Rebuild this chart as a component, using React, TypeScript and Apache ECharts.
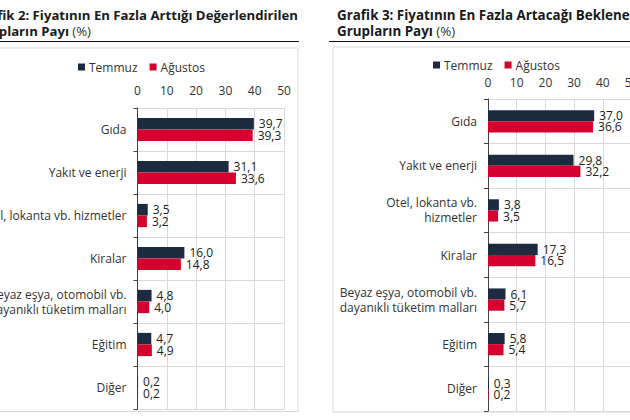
import React, { useEffect, useRef } from "react";
import * as echarts from "echarts";

const categoriesLeft = [
  "Gıda",
  "Yakıt ve enerji",
  "Otel, lokanta vb. hizmetler",
  "Kiralar",
  "Beyaz eşya, otomobil vb.\ndayanıklı tüketim malları",
  "Eğitim",
  "Diğer",
];
const categoriesRight = [
  "Gıda",
  "Yakıt ve enerji",
  "Otel, lokanta vb.\nhizmetler",
  "Kiralar",
  "Beyaz eşya, otomobil vb.\ndayanıklı tüketim malları",
  "Eğitim",
  "Diğer",
];
const temmuzLeft = [39.7, 31.1, 3.5, 16.0, 4.8, 4.7, 0.2];
const agustosLeft = [39.3, 33.6, 3.2, 14.8, 4.0, 4.9, 0.2];
const temmuzRight = [37.0, 29.8, 3.8, 17.3, 6.1, 5.8, 0.3];
const agustosRight = [36.6, 32.2, 3.5, 16.5, 5.7, 5.4, 0.2];
const seriesNames = ["Temmuz", "Ağustos"];
const titleLeft = ["Grafik 2: Fiyatının En Fazla Arttığı Değerlendirilen", "Grupların Payı"];
const titleRight = ["Grafik 3: Fiyatının En Fazla Artacağı Beklenen", "Grupların Payı"];

const NAVY = "#1d2b40";
const RED = "#d6002f";
const GRID = "#d9d9d9";
const FONT = "Open Sans";

export default function App() {
  const ref = useRef<HTMLDivElement>(null);
  useEffect(() => {
    if (!ref.current) return;
    const chart = echarts.init(ref.current, null, { renderer: "svg" });
    const fmt = (p: any) => p.value.toFixed(1).replace(".", ",");
    const xAxisCommon = (gridIndex: number, margin: number) => ({
      type: "value",
      gridIndex,
      position: "top",
      min: 0,
      max: 50,
      interval: 10,
      axisLine: { show: false },
      axisTick: { show: false },
      axisLabel: { fontFamily: FONT, fontSize: 12, color: "#333", margin },
      splitLine: { show: true, lineStyle: { color: GRID, width: 1 } },
    });
    const yAxisCommon = (gridIndex: number, data: string[]) => ({
      type: "category",
      gridIndex,
      data,
      inverse: true,
      axisLine: { show: true, lineStyle: { color: "#404040", width: 1 } },
      axisTick: { show: true, length: 4, lineStyle: { color: "#404040" } },
      axisLabel: {
        fontFamily: FONT,
        fontSize: 12,
        color: "#333",
        margin: 11,
        lineHeight: 15,
        align: "right",
      },
      splitLine: { show: true, lineStyle: { color: GRID, width: 1 } },
    });
    const barSeries = (name: string, data: number[], idx: number, color: string, gap: string) => ({
      type: "bar",
      name,
      data,
      xAxisIndex: idx,
      yAxisIndex: idx,
      barGap: "0%",
      barCategoryGap: gap,
      itemStyle: { color },
      label: {
        show: true,
        position: "right",
        distance: 5,
        formatter: fmt,
        fontFamily: FONT,
        fontSize: 12,
        color: "#222",
      },
    });
    const titleText = (lines: string[], x: number, align: string, size: number) => ({
      type: "group",
      children: [
        {
          type: "text",
          x,
          y: 15,
          style: {
            text: lines[0],
            font: `bold ${size}px "${FONT}"`,
            fill: "#1a1a1a",
            align,
            verticalAlign: "middle",
          },
        },
        {
          type: "text",
          x: align === "right" ? 91 : x,
          y: 31,
          style: {
            text: `{b|${lines[1]}} {n|(%)}`,
            rich: {
              b: { fontFamily: FONT, fontWeight: "bold", fontSize: size, fill: "#1a1a1a" },
              n: { fontFamily: FONT, fontSize: size, fill: "#333" },
            },
            align,
            verticalAlign: "middle",
          },
        },
      ],
    });
    const legendCommon = {
      data: seriesNames,
      itemWidth: 7,
      itemHeight: 7,
      itemGap: 12,
      icon: "rect",
      textStyle: { fontFamily: FONT, fontSize: 12, color: "#333", padding: [0, 0, 0, -1] },
    };
    chart.setOption({
      animation: false,
      backgroundColor: "#ffffff",
      graphic: [
        {
          type: "rect",
          shape: { x: -20, y: 48, width: 318, height: 363.5 },
          style: { fill: "none", stroke: GRID, lineWidth: 1 },
          z: -1,
        },
        {
          type: "rect",
          shape: { x: 333, y: 47, width: 320, height: 365 },
          style: { fill: "none", stroke: GRID, lineWidth: 1 },
          z: -1,
        },
        titleText(titleLeft, 298, "right", 13.2),
        titleText(titleRight, 337, "left", 13.4),
        {
          type: "line",
          shape: { x1: -10, y1: 41.5, x2: 299, y2: 41.5 },
          style: { stroke: "#111", lineWidth: 1 },
        },
        {
          type: "line",
          shape: { x1: 329, y1: 41.5, x2: 640, y2: 41.5 },
          style: { stroke: "#111", lineWidth: 1 },
        },
      ],
      legend: [
        { ...legendCommon, left: 73, top: 56 },
        { ...legendCommon, left: 428, top: 54 },
      ],
      grid: [
        {
          left: 137.5,
          right: 630 - 284,
          top: 108,
          bottom: 420 - 409,
          containLabel: false,
          outerBoundsMode: "none",
        },
        {
          left: 488,
          right: 630 - 631.5,
          top: 99,
          bottom: 420 - 411,
          containLabel: false,
          outerBoundsMode: "none",
        },
      ],
      xAxis: [xAxisCommon(0, 12), xAxisCommon(1, 11)],
      yAxis: [yAxisCommon(0, categoriesLeft), yAxisCommon(1, categoriesRight)],
      series: [
        barSeries(seriesNames[0], temmuzLeft, 0, NAVY, "46%"),
        barSeries(seriesNames[1], agustosLeft, 0, RED, "46%"),
        barSeries(seriesNames[0], temmuzRight, 1, NAVY, "50%"),
        barSeries(seriesNames[1], agustosRight, 1, RED, "50%"),
      ],
    });
    return () => chart.dispose();
  }, []);
  return (
    <div
      ref={ref}
      style={{ position: "absolute", left: 0, top: 0, width: 630, height: 420 }}
    />
  );
}
